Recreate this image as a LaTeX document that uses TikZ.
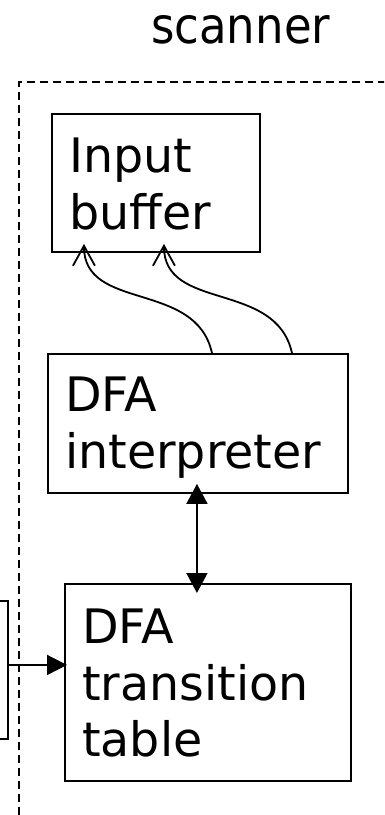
\documentclass[tikz,border=0pt]{standalone}
\usepackage{fontspec}
\setmainfont{DejaVu Sans}
\newfontfamily\titlefont[FakeStretch=0.9]{DejaVu Sans}
\usetikzlibrary{arrows.meta,calc}
\begin{document}
\begin{tikzpicture}[x=1pt,y=-1pt,
  box/.style={draw,line width=1.9pt,rectangle,inner sep=0pt,anchor=north west},
  boxtext/.style={anchor=north west,inner sep=0pt,align=left,font=\fontsize{47.5}{56.5}\selectfont},
  flow/.style={line width=1.8pt,-{Straight Barb[length=20pt,width=22pt,line width=1.8pt]}},
  link/.style={line width=1.8pt,{Triangle[length=20pt,width=21pt]}-{Triangle[length=20pt,width=21pt]}},
  feed/.style={line width=1.8pt,-{Triangle[length=20pt,width=20pt]}},
  boundary/.style={line width=1.3pt,dash pattern=on 8pt off 5pt}]
\clip (0,0) rectangle (384,815);

% title of the enclosing component
\node[anchor=base west,inner sep=0pt,font=\titlefont\fontsize{50}{56}\selectfont] (title) at (151,43) {scanner};

% dashed component boundary
\draw[boundary] (19,815) -- (19,82) -- (390,82);

% boxes
\node[box,minimum width=208pt,minimum height=138pt] (buffer) at (51,113) {};
\node[box,minimum width=300pt,minimum height=139pt] (interp) at (47,353) {};
\node[box,minimum width=286pt,minimum height=197pt] (table) at (64,583) {};
\node[box,minimum width=120pt,minimum height=138pt] (source) at (-113,600) {};

% box labels
\node[boxtext] (bufferlabel) at ($(buffer.north west)+(18,25)$) {Input\\buffer};
\node[boxtext] (interplabel) at ($(interp.north west)+(18,24)$) {DFA\\interpreter};
\node[boxtext] (tablelabel) at ($(table.north west)+(18,26)$) {DFA\\transition\\table};

% connectors
\draw[flow] ([xshift=14pt]interp.north) .. controls +(-16,-73) and +(0,68) .. ([xshift=-72pt,yshift=9pt]buffer.south);
\draw[flow] ([xshift=94pt]interp.north) .. controls +(-16,-73) and +(0,68) .. ([xshift=8pt,yshift=9pt]buffer.south);
\draw[link] ($(interp.south)+(-1,-10)$) -- ($(interp.south |- table.north)+(-1,10)$);
\draw[feed] ($(source.east)+(0,-5)$) -- ($(table.west |- source.east)+(3,-5)$);
\end{tikzpicture}
\end{document}
